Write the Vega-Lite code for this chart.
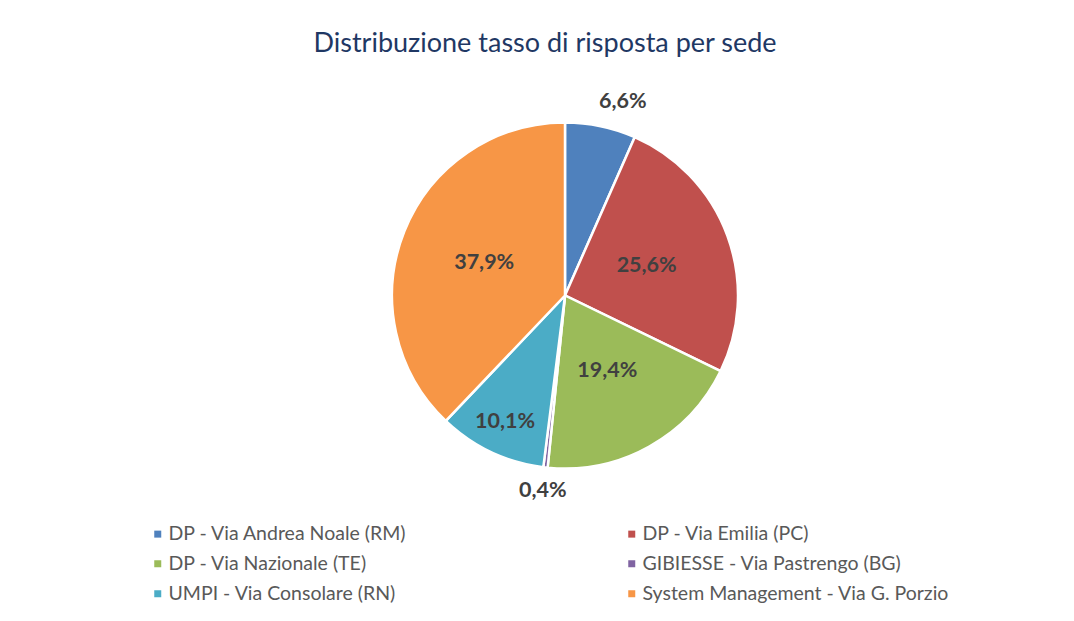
{
  "$schema": "https://vega.github.io/schema/vega-lite/v6.json",
  "autosize": "none",
  "padding": {"left": 7, "top": 6, "right": 0, "bottom": 0},
  "width": 1116,
  "height": 640,
  "background": "white",
  "config": {
    "locale": {"number": {"decimal": ",", "thousands": ".", "grouping": [3], "currency": ["€", ""]}},
    "view": {"stroke": "#D0D0D0", "strokeWidth": 2},
    "font": "Lato"
  },
  "title": {
    "text": "Distribuzione tasso di risposta per sede",
    "font": "Lato",
    "fontSize": 27,
    "fontWeight": "normal",
    "color": "#1F3864",
    "anchor": "middle",
    "frame": "group",
    "baseline": "alphabetic",
    "offset": -73,
    "dx": -20
  },
  "data": {
    "values": [
      {"sede": "DP - Via Andrea Noale (RM)", "quota": 0.066, "ord": 1},
      {"sede": "DP - Via Emilia (PC)", "quota": 0.256, "ord": 2},
      {"sede": "DP - Via Nazionale (TE)", "quota": 0.194, "ord": 3},
      {"sede": "GIBIESSE - Via Pastrengo (BG)", "quota": 0.004, "ord": 4},
      {"sede": "UMPI - Via Consolare (RN)", "quota": 0.101, "ord": 5},
      {"sede": "System Management - Via G. Porzio", "quota": 0.379, "ord": 6}
    ]
  },
  "encoding": {
    "theta": {"field": "quota", "type": "quantitative", "stack": true},
    "order": {"field": "ord", "type": "quantitative"},
    "color": {
      "field": "sede",
      "type": "nominal",
      "scale": {
        "domain": ["DP - Via Andrea Noale (RM)", "DP - Via Emilia (PC)", "DP - Via Nazionale (TE)", "GIBIESSE - Via Pastrengo (BG)", "UMPI - Via Consolare (RN)", "System Management - Via G. Porzio"],
        "range": ["#4F81BD", "#C0504D", "#9BBB59", "#8064A2", "#4BACC6", "#F79646"]
      },
      "legend": {
        "title": null,
        "orient": "none",
        "direction": "horizontal",
        "legendX": 141,
        "legendY": 518,
        "columns": 2,
        "columnPadding": 214,
        "rowPadding": 9,
        "padding": 0,
        "symbolType": "square",
        "symbolSize": 49,
        "symbolStrokeWidth": 0,
        "labelOffset": 1,
        "labelFont": "Lato",
        "labelFontSize": 19.5,
        "labelColor": "#595959",
        "labelLimit": 400
      }
    }
  },
  "layer": [
    {
      "mark": {"type": "arc", "outerRadius": 173, "stroke": "white", "strokeWidth": 2.5, "y": {"expr": "height/2 - 30.5"}}
    },
    {
      "mark": {"type": "text", "radius": 87, "font": "Lato", "fontSize": 21.5, "fontWeight": "bold", "y": {"expr": "height/2 - 30.5"}},
      "encoding": {
        "text": {"condition": {"test": "indexof(['DP - Via Emilia (PC)','DP - Via Nazionale (TE)','System Management - Via G. Porzio'], datum.sede) >= 0", "field": "quota", "type": "quantitative", "format": ".1%"}, "value": ""},
        "color": {"value": "#404040"}
      }
    },
    {
      "mark": {"type": "text", "radius": 140, "font": "Lato", "fontSize": 21.5, "fontWeight": "bold", "y": {"expr": "height/2 - 30.5"}},
      "encoding": {
        "text": {"condition": {"test": "datum.sede === 'UMPI - Via Consolare (RN)'", "field": "quota", "type": "quantitative", "format": ".1%"}, "value": ""},
        "color": {"value": "#404040"}
      }
    },
    {
      "mark": {"type": "text", "radius": 197, "font": "Lato", "fontSize": 21.5, "fontWeight": "bold", "y": {"expr": "height/2 - 30.5"}},
      "encoding": {
        "text": {"condition": {"test": "datum.sede === 'GIBIESSE - Via Pastrengo (BG)'", "field": "quota", "type": "quantitative", "format": ".1%"}, "value": ""},
        "color": {"value": "#404040"}
      }
    },
    {
      "mark": {"type": "text", "radius": 198, "dx": 17, "font": "Lato", "fontSize": 21.5, "fontWeight": "bold", "y": {"expr": "height/2 - 30.5"}},
      "encoding": {
        "text": {"condition": {"test": "datum.sede === 'DP - Via Andrea Noale (RM)'", "field": "quota", "type": "quantitative", "format": ".1%"}, "value": ""},
        "color": {"value": "#404040"}
      }
    }
  ]
}
